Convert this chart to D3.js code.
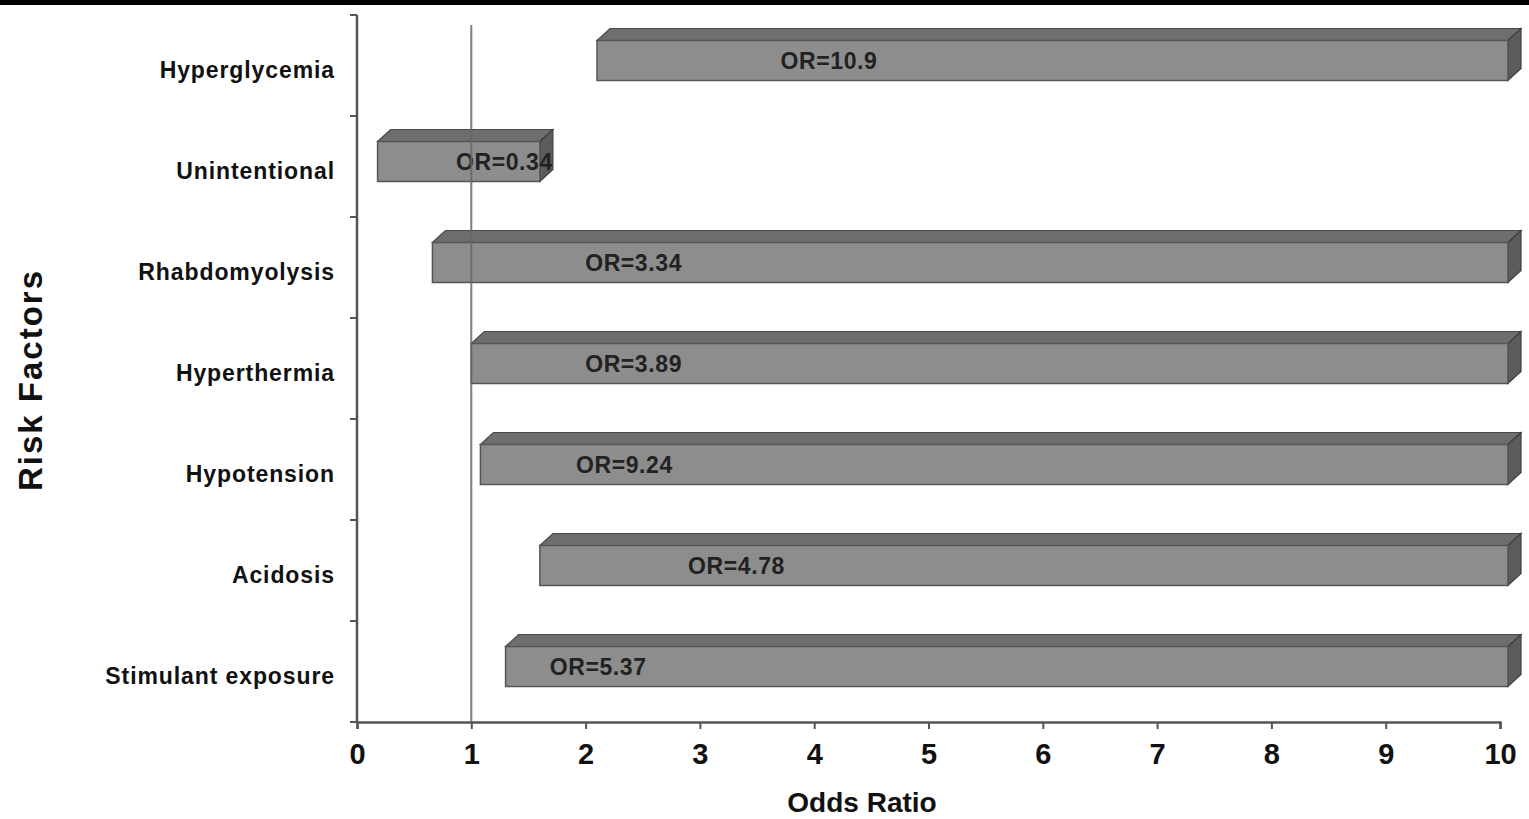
<!DOCTYPE html>
<html>
<head>
    <meta charset="utf-8">
    <title>Risk Factors - Odds Ratio</title>
    <style>
        body { margin: 0; background: #fff; }
        svg { display: block; font-family: "Liberation Sans", Arial, sans-serif; }
    </style>
</head>
<body>
    <div id="chart"></div>

    <script src="https://d3js.org/d3.v7.min.js"></script>
    <script>
        // risk factors, top to bottom
        const factors = ["Hyperglycemia", "Unintentional", "Rhabdomyolysis", "Hyperthermia",
                         "Hypotension", "Acidosis", "Stimulant exposure"];
        // odds ratio reported on each bar
        const oddsRatio = [10.9, 0.34, 3.34, 3.89, 9.24, 4.78, 5.37];
        // confidence interval, lower and upper ends (upper ends run off the axis)
        const ciLow  = [2.1, 0.18, 0.66, 1.0, 1.08, 1.6, 1.3];
        const ciHigh = [10.07, 1.6, 10.07, 10.07, 10.07, 10.07, 10.07];
        // where each "OR=" label sits along the axis
        const labelAt = [4.13, 1.29, 2.42, 2.42, 2.34, 3.32, 2.11];
        const xTicks = [0, 1, 2, 3, 4, 5, 6, 7, 8, 9, 10];

        const width = 1529, height = 819;
        const margin = { top: 15, right: 29, bottom: 97, left: 357 };

        const svg = d3.select('#chart').append('svg')
            .attr('width', width)
            .attr('height', height);

        // black strip along the top edge
        svg.append('rect')
            .attr('x', 0).attr('y', 0)
            .attr('width', width).attr('height', 5)
            .attr('fill', '#000');

        const x = d3.scaleLinear()
            .domain([0, 10])
            .range([margin.left, 1500]);

        const y = d3.scaleBand()
            .domain(factors)
            .range([margin.top, height - margin.bottom]);

        const depthX = 13, depthY = -12;
        const barH = 40;

        const rows = factors.map((f, i) => ({
            name: f, or: oddsRatio[i], lo: ciLow[i], hi: ciHigh[i], lab: labelAt[i]
        }));

        // bars drawn as 3D boxes
        const bar = svg.append('g').selectAll('g')
            .data(rows)
            .enter()
            .append('g');

        const frontTop = d => y(d.name) + y.bandwidth() / 2 - barH / 2 - 5;

        // top face
        bar.append('path')
            .attr('d', d => {
                const x0 = x(d.lo), x1 = x(d.hi), t = frontTop(d);
                return `M${x0},${t}L${x0 + depthX},${t + depthY}L${x1 + depthX},${t + depthY}L${x1},${t}Z`;
            })
            .attr('fill', '#6e6e6e')
            .attr('stroke', '#4a4a4a')
            .attr('stroke-width', 1.2);

        // right side face
        bar.append('path')
            .attr('d', d => {
                const x1 = x(d.hi), t = frontTop(d);
                return `M${x1},${t}L${x1 + depthX},${t + depthY}L${x1 + depthX},${t + depthY + barH}L${x1},${t + barH}Z`;
            })
            .attr('fill', '#5c5c5c')
            .attr('stroke', '#3e3e3e')
            .attr('stroke-width', 1.2);

        // front face
        bar.append('rect')
            .attr('x', d => x(d.lo))
            .attr('y', d => frontTop(d))
            .attr('width', d => x(d.hi) - x(d.lo))
            .attr('height', barH)
            .attr('fill', '#8d8d8d')
            .attr('stroke', '#555')
            .attr('stroke-width', 1.5);

        // reference line at OR = 1
        svg.append('line')
            .attr('x1', x(1)).attr('x2', x(1))
            .attr('y1', 25).attr('y2', height - margin.bottom)
            .attr('stroke', '#666')
            .attr('stroke-opacity', 0.85)
            .attr('stroke-width', 2);

        // OR labels
        bar.append('text')
            .attr('x', d => x(d.lab))
            .attr('y', d => frontTop(d) + barH / 2 + 8)
            .attr('text-anchor', 'middle')
            .style('font-size', '23px')
            .style('font-weight', 'bold')
            .style('letter-spacing', '0.6px')
            .style('fill', '#222')
            .text(d => 'OR=' + d.or);

        // x axis
        const xAxis = svg.append('g')
            .attr('transform', `translate(0,${height - margin.bottom})`)
            .call(d3.axisBottom(x).tickValues(xTicks).tickSize(7).tickPadding(14).tickFormat(d3.format('d')));
        xAxis.select('.domain').attr('stroke', '#555').attr('stroke-width', 2.5);
        xAxis.selectAll('.tick line').attr('stroke', '#555').attr('stroke-width', 2);
        xAxis.selectAll('.tick text')
            .style('font-size', '29px')
            .style('font-weight', 'bold')
            .style('fill', '#111');

        // y axis: ticks at band boundaries, labels centred in bands
        svg.append('line')
            .attr('x1', margin.left).attr('x2', margin.left)
            .attr('y1', margin.top).attr('y2', height - margin.bottom)
            .attr('stroke', '#555').attr('stroke-width', 2.5);

        const bounds = factors.map(f => y(f)).concat([y.range()[1]]);
        svg.append('g').selectAll('line')
            .data(bounds)
            .enter()
            .append('line')
            .attr('x1', margin.left - 7).attr('x2', margin.left)
            .attr('y1', d => d).attr('y2', d => d)
            .attr('stroke', '#555').attr('stroke-width', 2);

        svg.append('g').selectAll('text')
            .data(factors)
            .enter()
            .append('text')
            .attr('x', 335)
            .attr('y', d => y(d) + y.bandwidth() / 2 + 12)
            .attr('text-anchor', 'end')
            .style('font-size', '23px')
            .style('font-weight', 'bold')
            .style('letter-spacing', '0.9px')
            .style('fill', '#111')
            .text(d => d);

        // axis titles
        svg.append('text')
            .attr('x', 862).attr('y', 812)
            .attr('text-anchor', 'middle')
            .style('font-size', '28px')
            .style('font-weight', 'bold')
            .style('fill', '#111')
            .text('Odds Ratio');

        svg.append('text')
            .attr('transform', 'translate(42,380) rotate(-90)')
            .attr('text-anchor', 'middle')
            .style('font-size', '33px')
            .style('font-weight', 'bold')
            .style('letter-spacing', '2px')
            .style('fill', '#111')
            .text('Risk Factors');
    </script>
</body>
</html>
